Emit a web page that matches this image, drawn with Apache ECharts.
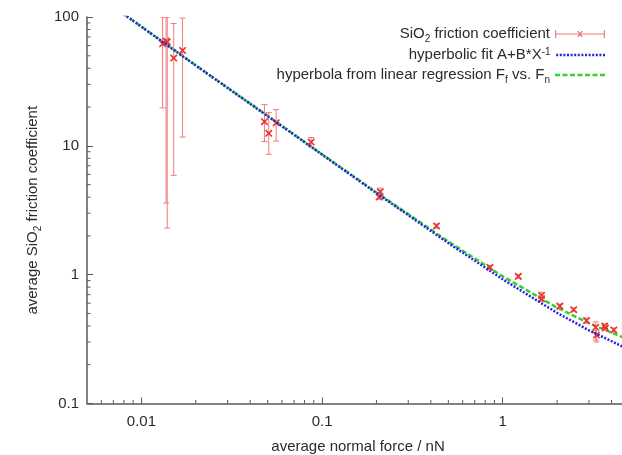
<!DOCTYPE html>
<html>
<head>
<meta charset="utf-8">
<script src="https://cdn.jsdelivr.net/npm/echarts@6/dist/echarts.min.js"></script>
<style>
html,body{margin:0;padding:0;background:#fff;}
#chart{width:622px;height:455px;}
</style>
</head>
<body>
<div id="chart"></div>
<script>
// ---- data ----
const forceX   = [0.0131, 0.0137, 0.0139, 0.0151, 0.0169, 0.048, 0.0507, 0.0557, 0.087, 0.21, 0.207, 0.43, 0.85, 1.22, 1.64, 1.64, 2.07, 2.47, 2.91, 3.27, 3.3, 3.67, 3.7, 4.12];
const frictionY= [62, 65, 64, 48, 55, 15.4, 12.5, 15.1, 10.7, 4.4, 4.0, 2.39, 1.14, 0.97, 0.69, 0.65, 0.57, 0.535, 0.44, 0.39, 0.34, 0.40, 0.385, 0.372];
const errLow   = [19.7, 3.6, 2.3, 5.9, 11.7, 10.8, 8.6, 10.9, 9.8, 4.0, 3.85, 2.3, 1.1, 0.94, 0.63, 0.62, 0.55, 0.52, 0.42, 0.31, 0.30, 0.385, 0.37, 0.36];
const errHigh  = [100, 100, 100, 89, 98, 20.9, 18.1, 19.1, 11.6, 4.7, 4.2, 2.48, 1.18, 1.0, 0.73, 0.68, 0.59, 0.55, 0.46, 0.43, 0.37, 0.415, 0.40, 0.385];

const fitX     = [0.008, 0.01, 0.02, 0.05, 0.1, 0.2, 0.5, 1, 2, 3, 5];
const hypFitY  = [105, 84, 42, 17, 8.55, 4.3, 1.76, 0.92, 0.505, 0.37, 0.262];
const regFitY  = [105.5, 84.3, 42.2, 17.1, 8.6, 4.35, 1.81, 0.97, 0.555, 0.42, 0.312];

const xMajorTickLabels = [0.01, 0.1, 1];
const yMajorTickLabels = [0.1, 1, 10, 100];
const xMinorTicks = [0.006,0.007,0.008,0.009,0.02,0.03,0.04,0.05,0.06,0.07,0.08,0.09,0.2,0.3,0.4,0.5,0.6,0.7,0.8,0.9,2,3,4];
const yMinorTicks = [0.2,0.3,0.4,0.5,0.6,0.7,0.8,0.9,2,3,4,5,6,7,8,9,20,30,40,50,60,70,80,90];

const X_MIN = 0.005, X_MAX = 5, Y_MIN = 0.1, Y_MAX = 100;

const nameData = 'SiO2 friction coefficient';
const nameHyp  = 'hyperbolic fit A+B*X^-1';
const nameReg  = 'hyperbola from linear regression Ff vs. Fn';
const richLabels = {};
richLabels[nameData] = 'SiO{sub|2} friction coefficient';
richLabels[nameHyp]  = 'hyperbolic fit A+B*X{sup|-1}';
richLabels[nameReg]  = 'hyperbola from linear regression F{sub|f} vs. F{sub|n}';

const FONT = 'Liberation Sans, Arial, Helvetica, sans-serif';
const TXT = '#2b2b2b';
const BLUE = '#2323d8', GREEN = '#2fd22f', RED_BAR = '#f37b7b', RED_MK = '#e8302c';
const rich = {
  sub: {fontSize: 10, fontFamily: FONT, color: TXT, verticalAlign: 'top', padding: [8,0,0,0], lineHeight: 10},
  sup: {fontSize: 10, fontFamily: FONT, color: TXT, verticalAlign: 'top', lineHeight: 10}
};

function dashIcon(dash, gap, total, h) {
  let s = 'path://';
  for (let x = 0; x < total; x += dash + gap) {
    const w = Math.min(dash, total - x);
    s += 'M' + x + ',0L' + (x + w) + ',0L' + (x + w) + ',' + h + 'L' + x + ',' + h + 'Z ';
  }
  return s;
}

const chart = echarts.init(document.getElementById('chart'), null, {renderer: 'canvas'});

const errData = forceX.map((x, i) => [x, frictionY[i], errLow[i], errHigh[i]]);
const AXIS_COLOR = '#5a5a5a';

const legendBase = {
  orient: 'vertical', align: 'right', right: 12,
  itemWidth: 50, itemHeight: 8, selectedMode: false,
  formatter: n => richLabels[n],
  textStyle: {fontSize: 15, fontFamily: FONT, color: TXT, lineHeight: 16, rich: rich}
};

const errIcon = 'path://M0,3.4L50,3.4L50,4.6L0,4.6Z M0,0L1.2,0L1.2,8L0,8Z M48.8,0L50,0L50,8L48.8,8Z M22,1L23.6,1L28,7L26.4,7Z M26.4,1L28,1L23.6,7L22,7Z';

const option = {
  backgroundColor: '#fff',
  animation: false,
  grid: {left: 87, top: 17, right: -7, bottom: 51.5, containLabel: false, outerBoundsMode: 'none'},
  legend: [
    Object.assign({}, legendBase, {top: 21, data: [{name: nameData, icon: errIcon, itemStyle: {color: RED_BAR}}]}),
    Object.assign({}, legendBase, {top: 42, itemHeight: 2.5, data: [{name: nameHyp, icon: dashIcon(2, 1.6, 50, 2.5), itemStyle: {color: BLUE}}]}),
    Object.assign({}, legendBase, {top: 62, itemHeight: 2.5, data: [{name: nameReg, icon: dashIcon(5, 2.5, 50, 2.5), itemStyle: {color: GREEN}}]})
  ],
  xAxis: {
    type: 'log', logBase: 10, min: X_MIN, max: X_MAX,
    name: 'average normal force / nN', nameLocation: 'middle', nameGap: 36,
    nameTextStyle: {fontSize: 15, fontFamily: FONT, color: TXT},
    axisLine: {show: true, lineStyle: {color: AXIS_COLOR, width: 1.5}},
    axisTick: {show: true, inside: true, length: 6, lineStyle: {color: AXIS_COLOR, width: 1}},
    axisLabel: {
      fontSize: 15, fontFamily: FONT, color: TXT, margin: 11,
      showMinLabel: false, showMaxLabel: false,
      formatter: v => {
        const r = xMajorTickLabels.find(t => Math.abs(Math.log10(t) - Math.log10(v)) < 1e-6);
        return r === undefined ? '' : String(r);
      }
    },
    splitLine: {show: false}
  },
  yAxis: {
    type: 'log', logBase: 10, min: Y_MIN, max: Y_MAX,
    name: 'average SiO{sub|2} friction coefficient', nameLocation: 'middle', nameGap: 46,
    nameTextStyle: {fontSize: 15, fontFamily: FONT, color: TXT, lineHeight: 16, rich: rich},
    axisLine: {show: true, lineStyle: {color: AXIS_COLOR, width: 1.5}},
    axisTick: {show: true, inside: true, length: 6, lineStyle: {color: AXIS_COLOR, width: 1}},
    axisLabel: {
      fontSize: 15, fontFamily: FONT, color: TXT, margin: 8,
      formatter: v => {
        const r = yMajorTickLabels.find(t => Math.abs(Math.log10(t) - Math.log10(v)) < 1e-6);
        return r === undefined ? '' : String(r);
      }
    },
    splitLine: {show: false}
  },
  series: [
    {
      name: 'minorX', type: 'custom', silent: true, clip: false, z: 1,
      data: xMinorTicks.map(v => [v, Y_MIN]),
      renderItem: (params, api) => {
        const p = api.coord([api.value(0), Y_MIN]);
        return {type: 'line', shape: {x1: p[0], y1: p[1], x2: p[0], y2: p[1] - 3.5},
          style: {stroke: AXIS_COLOR, lineWidth: 1}};
      }
    },
    {
      name: 'minorY', type: 'custom', silent: true, clip: false, z: 1,
      data: yMinorTicks.map(v => [X_MIN, v]),
      renderItem: (params, api) => {
        const p = api.coord([X_MIN, api.value(1)]);
        return {type: 'line', shape: {x1: p[0], y1: p[1], x2: p[0] + 3.5, y2: p[1]},
          style: {stroke: AXIS_COLOR, lineWidth: 1}};
      }
    },
    {
      name: nameData, type: 'custom', clip: true, z: 3,
      itemStyle: {color: RED_BAR},
      encode: {x: 0, y: 1},
      data: errData,
      renderItem: (params, api) => {
        const x = api.value(0), y = api.value(1), lo = api.value(2), hi = api.value(3);
        const p = api.coord([x, y]);
        const ph = api.coord([x, hi]);
        const pl = api.coord([x, lo]);
        const c = 3, m = 3.2;
        const bar = {stroke: RED_BAR, lineWidth: 1};
        const mk = {stroke: RED_MK, lineWidth: 1.6};
        return {type: 'group', children: [
          {type: 'line', shape: {x1: ph[0], y1: ph[1], x2: pl[0], y2: pl[1]}, style: bar},
          {type: 'line', shape: {x1: ph[0]-c, y1: ph[1], x2: ph[0]+c, y2: ph[1]}, style: bar},
          {type: 'line', shape: {x1: pl[0]-c, y1: pl[1], x2: pl[0]+c, y2: pl[1]}, style: bar},
          {type: 'line', shape: {x1: p[0]-m, y1: p[1]-m, x2: p[0]+m, y2: p[1]+m}, style: mk},
          {type: 'line', shape: {x1: p[0]-m, y1: p[1]+m, x2: p[0]+m, y2: p[1]-m}, style: mk}
        ]};
      }
    },
    {
      name: nameHyp, type: 'line', symbol: 'none', showSymbol: false, z: 4, clip: true,
      data: fitX.map((x, i) => [x, hypFitY[i]]),
      itemStyle: {color: BLUE},
      lineStyle: {color: BLUE, width: 2.5, type: [2, 1.6]}
    },
    {
      name: nameReg, type: 'line', symbol: 'none', showSymbol: false, z: 2, clip: true,
      data: fitX.map((x, i) => [x, regFitY[i]]),
      itemStyle: {color: GREEN},
      lineStyle: {color: GREEN, width: 2.5, type: [5, 2.5]}
    }
  ]
};
chart.setOption(option);
</script>
</body>
</html>
